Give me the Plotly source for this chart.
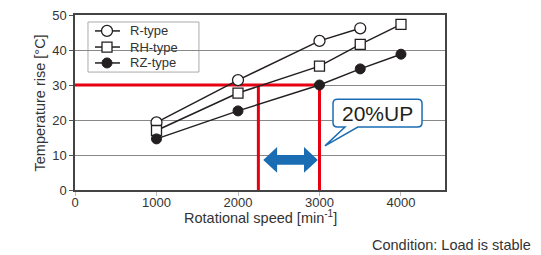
import plotly.graph_objects as go

r_speed = [1000, 2000, 3000, 3500]
r_temp = [19.3, 31.4, 42.6, 46.2]
rh_speed = [1000, 2000, 3000, 3500, 4000]
rh_temp = [17.0, 27.7, 35.4, 41.6, 47.3]
rz_speed = [1000, 2000, 3000, 3500, 4000]
rz_temp = [14.6, 22.6, 30.0, 34.6, 38.8]
series_names = ["R-type", "RH-type", "RZ-type"]

x_ticks = [0, 1000, 2000, 3000, 4000]
y_ticks = [0, 10, 20, 30, 40, 50]

ref_temp = 30
speed_before = 2250
speed_after = 3000
arrow_y = 8.6

BLACK = "#231f20"
RED = "#e60012"
BLUE = "#1a6db3"
TXT = "#333333"
FONT = "Liberation Sans, Arial, sans-serif"

marker_styles = [
    dict(symbol="circle", size=11, color="white", line=dict(color=BLACK, width=1.3)),
    dict(symbol="square", size=10, color="white", line=dict(color=BLACK, width=1.3)),
    dict(symbol="circle", size=10, color=BLACK, line=dict(color=BLACK, width=1)),
]

fig = go.Figure()

# red reference lines
fig.add_trace(go.Scatter(x=[0, speed_after], y=[ref_temp, ref_temp], mode="lines",
                         line=dict(color=RED, width=3), showlegend=False, hoverinfo="skip"))
for sx in [speed_before, speed_after]:
    fig.add_trace(go.Scatter(x=[sx, sx], y=[0, ref_temp], mode="lines",
                             line=dict(color=RED, width=3), showlegend=False, hoverinfo="skip"))

for name, xs, ys, mk in zip(series_names, [r_speed, rh_speed, rz_speed],
                            [r_temp, rh_temp, rz_temp], marker_styles):
    fig.add_trace(go.Scatter(x=xs, y=ys, name=name, mode="lines+markers",
                             line=dict(color=BLACK, width=1.5), marker=mk,
                             showlegend=False))

# custom legend (on an overlaid unit axis)
leg_rows = [0.909, 0.817, 0.726]
fig.add_shape(type="rect", xref="paper", yref="paper", x0=0.0351, x1=0.335,
              y0=0.674, y1=0.96, fillcolor="white", line=dict(color="#aaaaaa", width=1),
              layer="below")
for name, yy, mk in zip(series_names, leg_rows, marker_styles):
    fig.add_trace(go.Scatter(x=[0.054, 0.0865, 0.1216], y=[yy, yy, yy], mode="lines",
                             line=dict(color=BLACK, width=1.5), xaxis="x2", yaxis="y2",
                             showlegend=False, hoverinfo="skip"))
    fig.add_trace(go.Scatter(x=[0.0865], y=[yy], mode="markers", marker=mk,
                             xaxis="x2", yaxis="y2", showlegend=False, hoverinfo="skip"))
    fig.add_annotation(x=0.143, y=yy, xref="paper", yref="paper", text=name,
                       showarrow=False, xanchor="left", yanchor="middle",
                       font=dict(size=13, color=TXT, family=FONT))

# blue double arrow
hl = 170
hh = 3.7
sh = 1.4
x0, x1 = speed_before + 60, speed_after - 20
path = (f"M {x0},{arrow_y} L {x0+hl},{arrow_y+hh} L {x0+hl},{arrow_y+sh} "
        f"L {x1-hl},{arrow_y+sh} L {x1-hl},{arrow_y+hh} L {x1},{arrow_y} "
        f"L {x1-hl},{arrow_y-hh} L {x1-hl},{arrow_y-sh} L {x0+hl},{arrow_y-sh} "
        f"L {x0+hl},{arrow_y-hh} Z")
fig.add_shape(type="path", path=path, xref="x", yref="y",
              fillcolor=BLUE, line=dict(width=0))

# callout box with tail
bx0, bx1, by0, by1 = 3166, 4258, 18.0, 25.9
rx, ry = 55, 1.2
ta, tb = 3313, 3470
tipx, tipy = 3067, 12.6
cpath = (f"M {bx0+rx},{by1} L {bx1-rx},{by1} Q {bx1},{by1} {bx1},{by1-ry} "
         f"L {bx1},{by0+ry} Q {bx1},{by0} {bx1-rx},{by0} L {tb},{by0} "
         f"L {tipx},{tipy} L {ta},{by0} L {bx0+rx},{by0} Q {bx0},{by0} {bx0},{by0+ry} "
         f"L {bx0},{by1-ry} Q {bx0},{by1} {bx0+rx},{by1} Z")
fig.add_shape(type="path", path=cpath, xref="x", yref="y", fillcolor="white",
              line=dict(color=BLUE, width=1.5), layer="above")
fig.add_annotation(x=(bx0 + bx1) / 2, y=(by0 + by1) / 2, xref="x", yref="y",
                   text="20%UP", showarrow=False,
                   font=dict(size=21, color=BLACK, family=FONT))

# axis titles
fig.add_annotation(x=0.5, y=-0.152, xref="paper", yref="paper",
                   text="Rotational speed [min<sup>-1</sup>]", showarrow=False,
                   xanchor="center", yanchor="middle",
                   font=dict(size=14.5, color=TXT, family=FONT))
fig.add_annotation(x=-0.0946, y=0.5, xref="paper", yref="paper",
                   text="Temperature rise [°C]", showarrow=False, textangle=-90,
                   xanchor="center", yanchor="middle",
                   font=dict(size=14.5, color=TXT, family=FONT))

fig.add_annotation(x=1.238, y=-0.313, xref="paper", yref="paper",
                   text="Condition: Load is stable", showarrow=False,
                   xanchor="right", yanchor="middle",
                   font=dict(size=14.5, color=TXT, family=FONT))

fig.add_shape(type="rect", xref="paper", yref="paper",
              x0=1.246, x1=1.27, y0=-0.34, y1=1.2,
              fillcolor="#a8a8a8", line=dict(width=0), layer="above")

fig.update_layout(
    width=533, height=247,
    margin=dict(l=67, r=96, t=7, b=65),
    paper_bgcolor="white", plot_bgcolor="white",
    font=dict(family=FONT, size=13, color=TXT),
    showlegend=False,
    xaxis=dict(range=[0, 4540], tickvals=x_ticks, showgrid=False,
               showline=True, linecolor="#444", linewidth=1.5, mirror=True,
               ticks="outside", ticklen=4, tickcolor="#bbb",
               ticklabelstandoff=-4, ticklabeloverflow="allow",
               tickfont=dict(size=13, color=TXT), zeroline=False, automargin=False),
    yaxis=dict(range=[0, 50], tickvals=y_ticks, showgrid=True, gridcolor="#888",
               gridwidth=1, showline=True, linecolor="#444", linewidth=1.5,
               mirror=True, ticks="outside", ticklen=4, tickcolor="#555",
               ticklabeloverflow="allow",
               tickfont=dict(size=13, color=TXT), zeroline=False, automargin=False),
    xaxis2=dict(overlaying="x", range=[0, 1], visible=False),
    yaxis2=dict(overlaying="y", range=[0, 1], visible=False),
)

fig.write_html("out.html")
